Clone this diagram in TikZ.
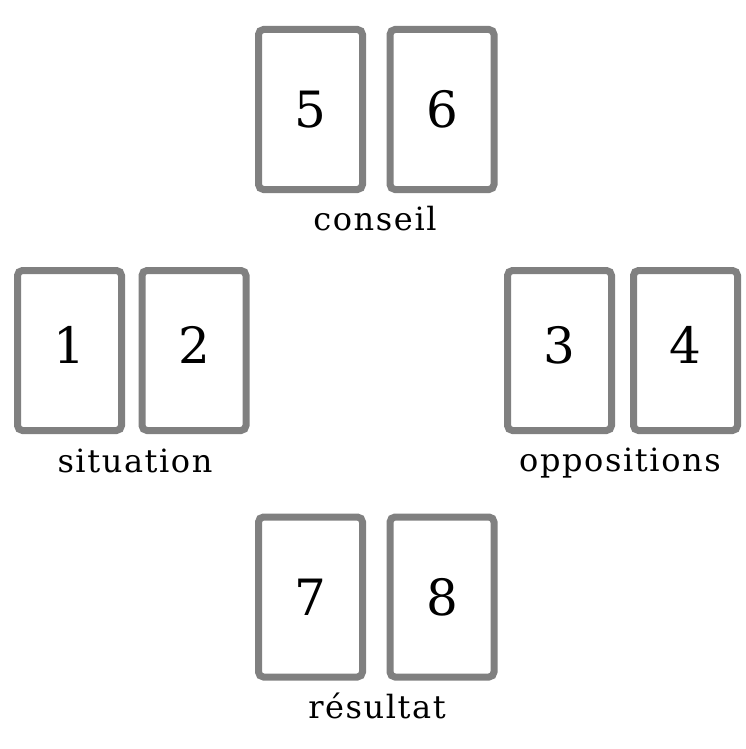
\documentclass[tikz,border=0pt]{standalone}
\usepackage{fontspec}
\newfontfamily\cardfont{DejaVu Serif}
\newfontfamily\labfont[LetterSpace=5]{DejaVu Serif}
\definecolor{cardgray}{HTML}{808080}
\tikzset{
  card/.style={draw=cardgray, line width=7pt, rounded corners=5pt, fill=white,
    minimum width=104pt, minimum height=160pt, inner sep=0pt,
    font=\cardfont\fontsize{50}{50}\selectfont},
  raised/.style={text depth=12pt},
  lab/.style={anchor=base, inner sep=0pt, font=\labfont\fontsize{32}{32}\selectfont}
}
\begin{document}
\begin{tikzpicture}[x=1pt,y=-1pt]
\useasboundingbox (0,0) rectangle (745,749);
\node[card] (c5) at (310.5,109.5) {5};
\node[card] (c6) at (442,109.5) {6};
\node[card,raised] (c1) at (69.5,350.5) {1};
\node[card,raised] (c2) at (194,350.5) {2};
\node[card,raised] (c3) at (559.5,350.5) {3};
\node[card,raised] (c4) at (685.5,350.5) {4};
\node[card] (c7) at (310.5,597) {7};
\node[card] (c8) at (442,597) {8};
\node[lab] (l1) at (375,230) {conseil};
\node[lab] (l2) at (135,472) {situation};
\node[lab] (l3) at (620,471) {oppositions};
\node[lab] (l4) at (377,718) {résultat};
\end{tikzpicture}
\end{document}
